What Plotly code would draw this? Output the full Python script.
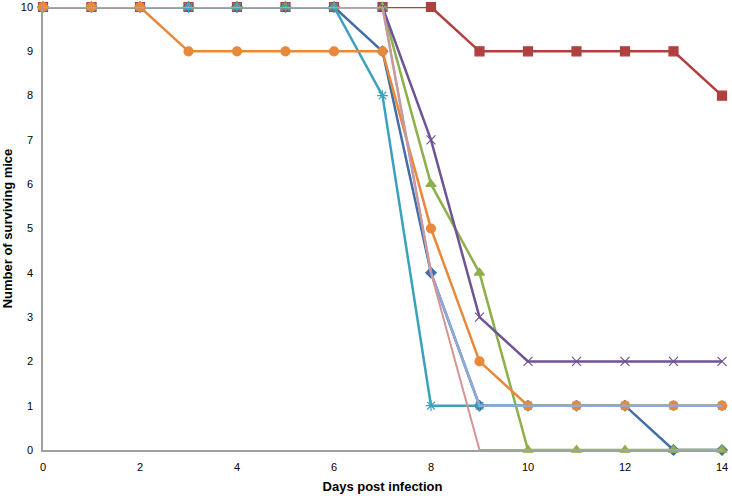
import plotly.graph_objects as go

days = list(range(15))
blue_diamond = [10, 10, 10, 10, 10, 10, 10, 9, 4, 1, 1, 1, 1, 0, 0]
red_square   = [10, 10, 10, 10, 10, 10, 10, 10, 10, 9, 9, 9, 9, 9, 8]
green_tri    = [10, 10, 10, 10, 10, 10, 10, 10, 6, 4, 0, 0, 0, 0, 0]
purple_x     = [10, 10, 10, 10, 10, 10, 10, 10, 7, 3, 2, 2, 2, 2, 2]
teal_star    = [10, 10, 10, 10, 10, 10, 10, 8, 1, 1, 1, 1, 1, 1, 1]
orange_circ  = [10, 10, 10, 9, 9, 9, 9, 9, 5, 2, 1, 1, 1, 1, 1]
lightblue    = [10, 10, 10, 10, 10, 10, 10, 10, 4, 1, 1, 1, 1, 1, 1]
pink         = [10, 10, 10, 10, 10, 10, 10, 10, 4, 0, 0, 0, 0, 0, 0]
xtick_vals = [0, 2, 4, 6, 8, 10, 12, 14]
ytick_vals = list(range(11))

series = [
    ("Group 1", blue_diamond, "#3F6EA8", "diamond", 8, 2.5),
    ("Group 2", red_square, "#B0403E", "square", 9, 2.5),
    ("Group 3", green_tri, "#8DB04A", "triangle-up", 9, 2.5),
    ("Group 4", purple_x, "#6E5494", "x-thin-open", 9, 2.5),
    ("Group 5", teal_star, "#3AA2BC", "asterisk-open", 9, 2.5),
    ("Group 6", orange_circ, "#E8883A", "circle", 9, 2.5),
    ("Group 7", lightblue, "#8EAAD6", "line-ns-open", 1, 2.5),
    ("Group 8", pink, "#D69592", "line-ns-open", 1, 2.0),
]

fig = go.Figure()
for name, ys, col, sym, sz, lw in series:
    fig.add_trace(go.Scatter(
        x=days, y=ys, name=name, mode="lines+markers",
        line=dict(color=col, width=lw),
        marker=dict(symbol=sym, size=sz, color=col, line=dict(color=col, width=1.2)),
        cliponaxis=False,
    ))

fig.update_layout(
    width=732, height=496,
    margin=dict(l=43, r=10, t=7, b=46),
    paper_bgcolor="white", plot_bgcolor="white",
    showlegend=False,
    font=dict(family="Liberation Sans, Arial", size=11, color="#000000"),
    xaxis=dict(
        range=[0, 14], tickvals=xtick_vals, automargin=False,
        showgrid=False, zeroline=False, showline=True, linecolor="#A0A0A0", linewidth=1.5,
        ticks="", ticklabelstandoff=6,
        title=dict(text="<b>Days post infection</b>", font=dict(size=13), standoff=10),
    ),
    yaxis=dict(
        range=[0, 10], tickvals=ytick_vals, automargin=False,
        showgrid=False, zeroline=False, showline=True, linecolor="#A0A0A0", linewidth=1.5,
        ticks="", ticklabelstandoff=6,
        title=dict(text="<b>Number of surviving mice</b>", font=dict(size=13), standoff=10),
    ),
)

fig.write_html("out.html", config={"displayModeBar": False},
               post_script="document.body.style.margin='0px';")
